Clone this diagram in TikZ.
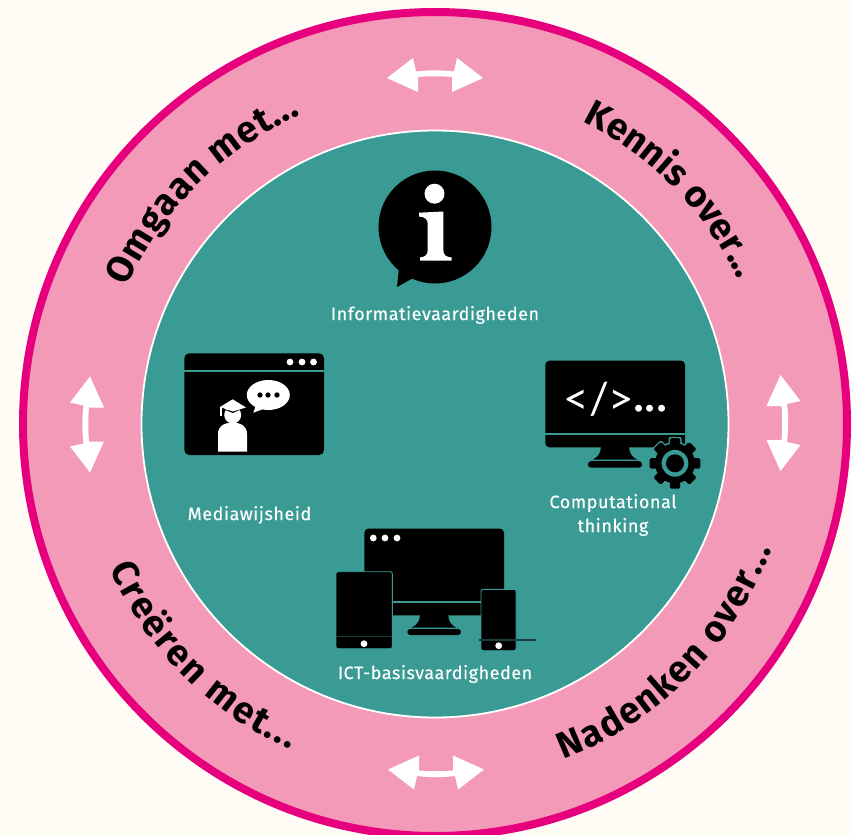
\documentclass[tikz,border=0pt]{standalone}
\usepackage{fontspec}
\setmainfont{Fira Sans}
\newfontfamily\thinfont{Lato}
\newfontfamily\labfam[LetterSpace=3,FakeBold=0.25]{Fira Sans}
\usetikzlibrary{decorations.text}
\definecolor{bgc}{HTML}{FFFCF6}
\definecolor{pinkc}{HTML}{F49AB9}
\definecolor{magc}{HTML}{E6007E}
\definecolor{tealc}{HTML}{399B94}
\definecolor{darkt}{HTML}{17403C}
\newcommand{\ringfont}{\bfseries\fontsize{37}{40}\selectfont}
\newcommand{\labfont}{\labfam\fontsize{18}{24}\selectfont}
\tikzset{
  x=1pt,y=-1pt,
  lab/.style={text=white,font=\labfont,align=center,inner sep=0pt,anchor=center},
  blk/.style={fill=black,draw=none},
  sep/.style={draw=tealc,line width=1.8pt},
  darksep/.style={draw=darkt,line width=1.3pt},
  outl/.style={fill=black,draw=tealc,line width=0.9pt},
  ringtext/.style={decorate,decoration={text along path,text align=fit to path,text={#1}}},
  dblarrow/.pic={
    \fill[white] (-48,0) -- (-22,-20) -- (-19,-6.5) .. controls (-7,-8) and (7,-8) .. (19,-6.5)
      -- (22,-20) -- (48,0) -- (17,14) -- (17,-1) .. controls (7,-2) and (-7,-2) .. (-17,-1) -- (-17,14) -- cycle;
  }
}
\begin{document}
\begin{tikzpicture}
\useasboundingbox (0,0) rectangle (852,835);
\fill[bgc] (0,0) rectangle (852,835);
\clip (0,0) rectangle (852,835);
\coordinate (C) at (435,424);
\fill[pinkc,draw=magc,line width=8pt] (C) circle[radius=412];
\fill[tealc,draw=white,line width=1.8pt] (C) circle[radius=293.5];

% ring arrows
\pic at (435,78) {dblarrow};
\pic[rotate=180] at (436,769.5) {dblarrow};
\pic[rotate=90] at (90,424.5) {dblarrow};
\pic[rotate=-90] at (780.5,423) {dblarrow};

% ring text
\path[ringtext={|\ringfont|Omgaan met...}] (C) ++(156:337pt) arc[start angle=156,end angle=113.5,radius=337pt];
\path[ringtext={|\ringfont|Kennis over...}] (C) ++(64:336pt) arc[start angle=64,end angle=25.5,radius=336pt];
\path[ringtext={|\ringfont|Creëren met...}] (C) ++(204:356pt) arc[start angle=204,end angle=246,radius=356pt];
\path[ringtext={|\ringfont|Nadenken over...}] (C) ++(291:359pt) arc[start angle=291,end angle=339.5,radius=359pt];

% information icon
\fill[black] (435,227) circle[radius=56.5];
\fill[black] (399,268) -- (397,287) -- (415,277) -- cycle;
\fill[white] (434.5,193.7) circle[radius=10];
\fill[white] (419,212.7) -- (443.3,211.5) -- (443.3,250) .. controls (443.3,255) and (446,257) .. (451.7,257.5)
  -- (451.7,260.7) -- (420,260.7) -- (420,257.5) .. controls (425,257) and (427.7,255) .. (427.7,250)
  -- (427.7,224) .. controls (427.7,219) and (425,217) .. (419,216.5) -- cycle;
\node[lab] (info) at (435,315) {Informatievaardigheden};

% media icon
\fill[blk,rounded corners=5pt] (184.3,353.3) rectangle (324,455);
\draw[sep] (184.3,370.7) -- (324,370.7);
\foreach \x in {290,302,313.5} \fill[white] (\x,362) circle[radius=3.4];
\fill[white] (268.3,395) ellipse[x radius=21.5,y radius=15];
\fill[white] (256,405) -- (253.3,412.7) -- (266,408) -- cycle;
\foreach \x in {260,268,277} \fill[black] (\x,395) circle[radius=2.7];
\fill[white] (218,451.7) -- (218,434) .. controls (218,426) and (224,422.7) .. (232.5,422.7)
  .. controls (241,422.7) and (247,426) .. (247,434) -- (247,451.7) -- cycle;
\fill[black] (222,418) rectangle (244,423);
\fill[white] (232.7,415) circle[radius=8.5];
\fill[black] (218,406.8) -- (232.7,413) -- (247,406.8) -- (247,410) -- (218,410) -- cycle;
\fill[white] (232.7,399.3) -- (246,407.5) -- (232.7,411.5) -- (220,407) -- cycle;
\fill[white] (220,407) rectangle (221.8,416);
\node[lab] (media) at (249.5,515) {Mediawijsheid};

% computational thinking icon
\fill[black,rounded corners=4pt] (545.3,360.7) rectangle (685,447.3);
\draw[sep] (545.3,433.7) -- (685,433.7);
\fill[black] (601,446) -- (629,446) .. controls (629,453) and (632,457) .. (637,459.5)
  -- (593,459.5) .. controls (598,457) and (601,453) .. (601,446) -- cycle;
\fill[black,rounded corners=3pt] (588,461.2) rectangle (642,467.7);
\node[text=white,inner sep=0pt,anchor=center,font=\fontsize{44}{48}\selectfont] (code) at (615,399.5)
  {{\thinfont </>}\raisebox{3pt}{\fontsize{38}{40}\selectfont\bfseries\addfontfeatures{LetterSpace=6}...}};
\begin{scope}[shift={(675,463.3)}]
  \foreach \a in {0,45,...,315}
    \fill[tealc,rotate=\a,rounded corners=2pt] (-6.5,-26.5) rectangle (6.5,0);
  \fill[tealc] (0,0) circle[radius=21.5];
  \foreach \a in {0,45,...,315}
    \fill[black,rotate=\a,rounded corners=1.5pt] (-5.2,-25.3) rectangle (5.2,0);
  \fill[black] (0,0) circle[radius=20];
  \fill[tealc] (0,0) circle[radius=13.4];
  \fill[black] (0,0) circle[radius=9];
\end{scope}
\node[lab] (comp) at (613,515) {Computational\\thinking};

% ICT icon
\fill[black,rounded corners=4pt] (364.3,528.7) rectangle (504,615.3);
\foreach \x in {373.3,385,397} \fill[white] (\x,538) circle[radius=3.4];
\draw[sep] (392,601.7) -- (481,601.7);
\fill[black] (420,615) -- (448.3,615) .. controls (448.3,621) and (451,625) .. (456,627.5)
  -- (411.7,627.5) .. controls (417,625) and (420,621) .. (420,615) -- cycle;
\fill[black,rounded corners=3pt] (407.3,629) rectangle (461,635);
\draw[outl,rounded corners=2pt] (336,571.7) rectangle (392.3,648.7);
\draw[darksep] (336,636.7) -- (392.3,636.7);
\fill[white] (364,643.7) circle[radius=3.4];
\draw[outl,rounded corners=2pt] (481,589.3) rectangle (516,650.7);
\draw[darksep] (479.3,640) -- (536,640);
\fill[white] (498.7,645.7) circle[radius=3.4];
\node[lab] (ict) at (435,674) {ICT-basisvaardigheden};
\end{tikzpicture}
\end{document}
